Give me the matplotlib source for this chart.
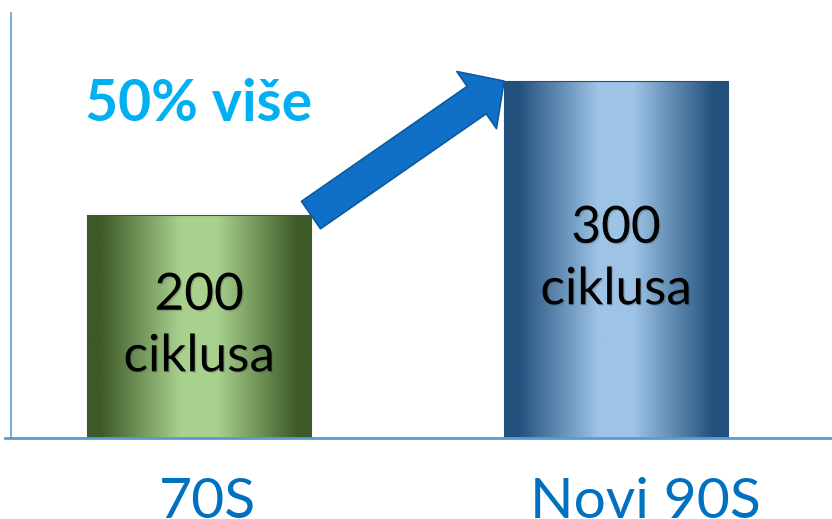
import matplotlib
matplotlib.use("Agg")
import matplotlib.pyplot as plt
import matplotlib.patheffects as pe
import matplotlib.transforms as mtransforms
import numpy as np
from matplotlib.colors import LinearSegmentedColormap
from matplotlib.patches import FancyArrowPatch

# Données
kategorije = ["70S", "Novi 90S"]
ciklusi = [200, 300]
oznake = ["200\nciklusa", "300\nciklusa"]
natpis = "50% više"

# Couleurs du dégradé des barres (bord foncé, centre clair)
boje_rub = ["#3d5a27", "#22507c"]
boje_sredina = ["#a9d18e", "#9dc3e6"]

plt.rcParams['font.family'] = ['Lato', 'DejaVu Sans']

fig = plt.figure(figsize=(8.32, 5.19), dpi=100)
ax = fig.add_axes([11 / 832, 81 / 519, 821 / 832, 425 / 519])

y_min, y_max = 33.6, 350.8
ax.set_xlim(-0.451, 1.518)
ax.set_ylim(y_min, y_max)

sirina = 0.537
x = np.arange(len(kategorije))
stupci = ax.bar(x, ciklusi, width=sirina, color='none',
                edgecolor='none', zorder=2)


def gradijent(rub, sredina):
    """Dégradé horizontal : foncé sur les bords, clair au milieu"""
    return LinearSegmentedColormap.from_list(
        'grad', [(0, rub), (0.06, rub), (0.42, sredina), (0.58, sredina),
                 (0.94, rub), (1, rub)])


traka = np.linspace(0, 1, 512).reshape(1, -1)
for stupac, rub, sredina in zip(stupci, boje_rub, boje_sredina):
    x0 = stupac.get_x()
    x1 = x0 + stupac.get_width()
    vrh = stupac.get_height()
    slika = ax.imshow(traka, cmap=gradijent(rub, sredina), aspect='auto',
                      extent=(x0, x1, y_min, vrh), interpolation='bilinear',
                      zorder=1.5)
    slika.set_clip_path(stupac)
    # fin contour de la barre
    ax.add_patch(plt.Rectangle((x0, y_min), x1 - x0, vrh - y_min,
                               fill=False, edgecolor=rub, linewidth=0.8,
                               zorder=2.5))

# Étiquettes dans les barres
sjena = [pe.withSimplePatchShadow(offset=(1, -1),
                                  shadow_rgbFace='#333333', alpha=0.2)]
for xi, vrijednost, tekst in zip(x, ciklusi, oznake):
    ax.text(xi, (y_min + vrijednost) / 2, tekst, ha='center', va='center',
            fontsize=37, color='black', linespacing=1.42,
            path_effects=sjena, zorder=3)

# Flèche entre le haut des deux barres
rep = (x[0] + sirina / 2, ciklusi[0])
vrh_strelice = (x[1] - sirina / 2, ciklusi[1])
strelica = FancyArrowPatch(rep, vrh_strelice,
                           arrowstyle="simple,head_length=24,head_width=50,tail_width=24",
                           mutation_scale=1, shrinkA=0, shrinkB=0,
                           facecolor='#1070c8', edgecolor='#0b5a9e',
                           linewidth=1.2, zorder=4)
ax.add_patch(strelica)

ax.text(0.09, 0.784, natpis, transform=ax.transAxes, ha='left', va='center',
        fontsize=41, fontweight='bold', color='#00b0f0')

# Axes
for cote in ['top', 'right']:
    ax.spines[cote].set_visible(False)
ax.spines['left'].set_color('#5b9bd5')
ax.spines['left'].set_linewidth(1.2)
ax.spines['bottom'].set_color('#5b9bd5')
ax.spines['bottom'].set_linewidth(2)
ax.spines['bottom'].set_zorder(5)
ax.spines['bottom'].set_bounds(-0.466, 1.518)

ax.set_yticks([])
ax.set_xticks(x, kategorije)
ax.tick_params(axis='x', length=0, pad=28, labelsize=41, labelcolor='#0070c0')

# léger décalage horizontal des libellés (en points)
pomaci = [6, 21]
for lab, dx in zip(ax.get_xticklabels(), pomaci):
    lab.set_transform(lab.get_transform() +
                      mtransforms.ScaledTranslation(dx / 72, 0, fig.dpi_scale_trans))

fig.savefig("out.png", dpi=100)
